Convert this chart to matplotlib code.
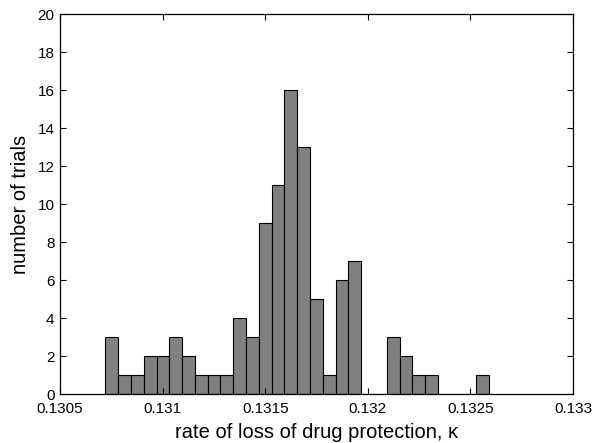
import matplotlib
matplotlib.use("Agg")
import matplotlib.pyplot as plt
import numpy as np

plt.rcParams['font.family'] = ['Liberation Sans', 'DejaVu Sans']

# data
counts = [3, 1, 1, 2, 2, 3, 2, 1, 1, 1, 4, 3, 9, 11, 16, 13, 5, 1, 6, 7,
          0, 0, 3, 2, 1, 1, 0, 0, 0, 1]
kappa_min = 0.130721
kappa_max = 0.132591
xticks = [0.1305, 0.131, 0.1315, 0.132, 0.1325, 0.133]
xticklabels = ["0.1305", "0.131", "0.1315", "0.132", "0.1325", "0.133"]
yticks = list(range(0, 21, 2))

edges = np.linspace(kappa_min, kappa_max, len(counts) + 1)
widths = np.diff(edges)

fig = plt.figure(figsize=(5.98, 4.43), dpi=100)
ax = fig.add_axes([60/598, 1 - 394/443, 513/598, 380/443])
ax.bar(edges[:-1], counts, width=widths, align='edge', color='#808080',
       edgecolor='black', linewidth=0.8)
ax.set_xlim(0.1305, 0.133)
ax.set_ylim(0, 20)
ax.set_xticks(xticks)
ax.set_xticklabels(xticklabels)
ax.set_yticks(yticks)
ax.tick_params(direction='in', top=True, right=True, labelsize=11, length=4)
ax.tick_params(axis='x', pad=6)
ax.tick_params(axis='y', pad=4)
for s in ax.spines.values():
    s.set_linewidth(0.9)
ax.set_xlabel("rate of loss of drug protection, \u03ba", fontsize=14.5, labelpad=5)
ax.set_ylabel("number of trials", fontsize=14.5, labelpad=5)
fig.savefig("out.png", dpi=100)
